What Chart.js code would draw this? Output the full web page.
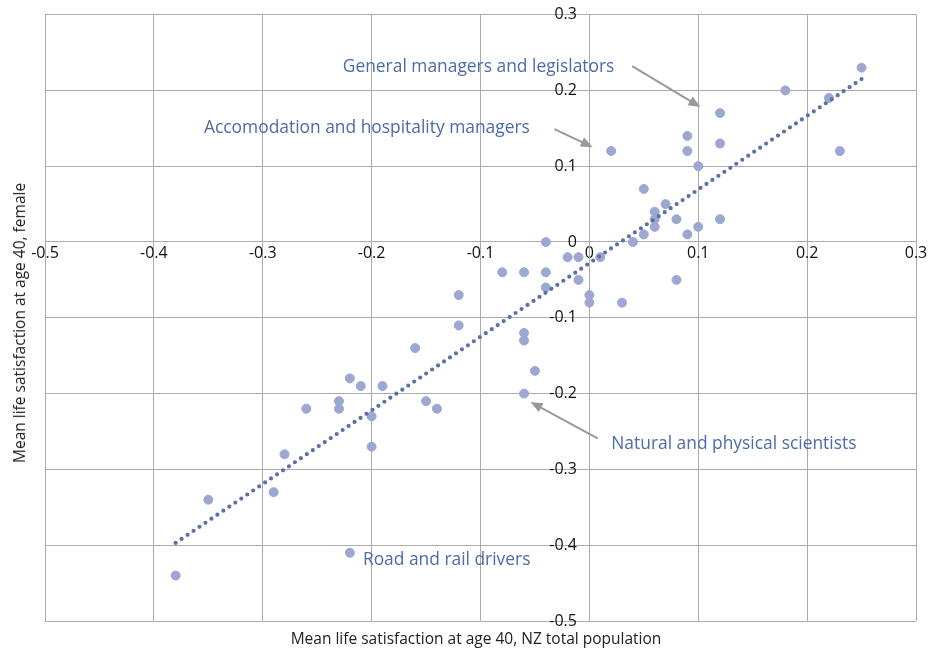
<!DOCTYPE html>
<html>
<head>
<meta charset="utf-8">
<script src="https://cdn.jsdelivr.net/npm/chart.js@4/dist/chart.umd.min.js"></script>
<style>
  html, body { margin: 0; padding: 0; background: #fff; }
  #wrap { position: relative; width: 939px; height: 651px; }
  canvas { position: absolute; left: 0; top: 0; }
  .ttl { position: absolute; font-family: "Open Sans", "Noto Sans", sans-serif; font-size: 15.5px; color: #222; white-space: nowrap; }
  #xt { left: 476px; top: 638px; transform: translate(-50%, -50%); }
  #yt { left: 19px; top: 323px; transform: translate(-50%, -50%) rotate(-90deg); }
</style>
</head>
<body>
<div id="wrap">
  <canvas id="c" width="939" height="651"></canvas>
  <div class="ttl" id="xt">Mean life satisfaction at age 40, NZ total population</div>
  <div class="ttl" id="yt">Mean life satisfaction at age 40, female</div>
</div>
<script>
// Mean life satisfaction at age 40 by occupation: NZ total population (x) vs female (y)
const totalPopulation = [
  0.25, 0.18, 0.22, 0.23, 0.12, 0.09, 0.09, 0.12, 0.02, 0.10,
  0.05, 0.07, 0.06, 0.06, 0.06, 0.08, 0.05, 0.09, 0.10, 0.12,
  0.04, -0.04, -0.02, -0.01, 0.01, -0.08, -0.06, -0.04, -0.04, -0.01,
  0.00, 0.00, 0.03, 0.08, -0.06, -0.06, -0.05, -0.06, -0.12, -0.12,
  -0.16, -0.22, -0.21, -0.19, -0.23, -0.23, -0.26, -0.20, -0.20, -0.15,
  -0.14, -0.28, -0.29, -0.35, -0.22, -0.38
];
const female = [
  0.23, 0.20, 0.19, 0.12, 0.17, 0.14, 0.12, 0.13, 0.12, 0.10,
  0.07, 0.05, 0.04, 0.03, 0.02, 0.03, 0.01, 0.01, 0.02, 0.03,
  0.00, 0.00, -0.02, -0.02, -0.02, -0.04, -0.04, -0.04, -0.06, -0.05,
  -0.07, -0.08, -0.08, -0.05, -0.12, -0.13, -0.17, -0.20, -0.07, -0.11,
  -0.14, -0.18, -0.19, -0.19, -0.21, -0.22, -0.22, -0.23, -0.27, -0.21,
  -0.22, -0.28, -0.33, -0.34, -0.41, -0.44
];
// Linear trend line endpoints
const trendX = [-0.38, 0.25];
const trendY = [-0.397, 0.215];
// Axis tick values
const xTicks = [-0.5, -0.4, -0.3, -0.2, -0.1, 0, 0.1, 0.2, 0.3];
const yTicks = [-0.5, -0.4, -0.3, -0.2, -0.1, 0, 0.1, 0.2, 0.3];
// Callouts
const calloutLabels = [
  'General managers and legislators',
  'Accomodation and hospitality managers',
  'Natural and physical scientists',
  'Road and rail drivers'
];

const fmt = v => (Math.abs(v) < 1e-9 ? '0' : (v < 0 ? '-' : '') + Math.abs(v).toFixed(1));

const scatterPts = totalPopulation.map((x, i) => ({ x: x, y: female[i] }));
const trendPts = trendX.map((x, i) => ({ x: x, y: trendY[i] }));

// Callout placement (data coordinates): text anchor + arrow from/to
const callouts = [
  { text: calloutLabels[0], tx: -0.2265, ty: 0.231, align: 'left', arrow: [[0.0393, 0.232], [0.102, 0.178]] },
  { text: calloutLabels[1], tx: -0.354, ty: 0.150, align: 'left', arrow: [[-0.0321, 0.149], [0.0031, 0.125]] },
  { text: calloutLabels[2], tx: 0.0201, ty: -0.266, align: 'left', arrow: [[0.0076, -0.259], [-0.0540, -0.211]] },
  { text: calloutLabels[3], tx: -0.2080, ty: -0.420, align: 'left', arrow: null }
];

const calloutPlugin = {
  id: 'callouts',
  afterDatasetsDraw(chart) {
    const ctx = chart.ctx;
    const xs = chart.scales.x, ys = chart.scales.y;
    ctx.save();
    ctx.font = '17.4px "Open Sans", "Noto Sans", sans-serif';
    ctx.fillStyle = '#4d6aa9';
    ctx.textBaseline = 'middle';
    callouts.forEach(c => {
      ctx.textAlign = c.align;
      ctx.fillText(c.text, xs.getPixelForValue(c.tx), ys.getPixelForValue(c.ty));
      if (c.arrow) {
        const x1 = xs.getPixelForValue(c.arrow[0][0]), y1 = ys.getPixelForValue(c.arrow[0][1]);
        const x2 = xs.getPixelForValue(c.arrow[1][0]), y2 = ys.getPixelForValue(c.arrow[1][1]);
        const ang = Math.atan2(y2 - y1, x2 - x1);
        const head = 12, hw = 5;
        ctx.strokeStyle = '#999999';
        ctx.fillStyle = '#999999';
        ctx.lineWidth = 2;
        ctx.beginPath();
        ctx.moveTo(x1, y1);
        ctx.lineTo(x2 - Math.cos(ang) * head * 0.8, y2 - Math.sin(ang) * head * 0.8);
        ctx.stroke();
        ctx.beginPath();
        ctx.moveTo(x2, y2);
        ctx.lineTo(x2 - Math.cos(ang) * head - Math.sin(ang) * hw, y2 - Math.sin(ang) * head + Math.cos(ang) * hw);
        ctx.lineTo(x2 - Math.cos(ang) * head + Math.sin(ang) * hw, y2 - Math.sin(ang) * head - Math.cos(ang) * hw);
        ctx.closePath();
        ctx.fill();
        ctx.fillStyle = '#4d6aa9';
      }
    });
    ctx.restore();
  }
};

new Chart(document.getElementById('c'), {
  type: 'scatter',
  data: {
    datasets: [
      {
        label: 'Occupations',
        data: scatterPts,
        backgroundColor: '#9ca7d2',
        borderColor: '#9ca7d2',
        pointRadius: 4.5,
        pointHoverRadius: 4.5,
        order: 2
      },
      {
        label: 'Trend',
        type: 'line',
        data: trendPts,
        showLine: true,
        borderColor: '#5d71a9',
        borderWidth: 4.2,
        borderDash: [0, 7.2],
        borderCapStyle: 'round',
        pointRadius: 0,
        fill: false,
        order: 1
      }
    ]
  },
  options: {
    responsive: false,
    animation: false,
    events: [],
    layout: { padding: { left: 45, top: 14, right: 23, bottom: 30 } },
    plugins: { legend: { display: false }, tooltip: { enabled: false } },
    scales: {
      x: {
        type: 'linear',
        position: { y: 0 },
        min: -0.5, max: 0.3,
        afterBuildTicks: s => { s.ticks = xTicks.map(v => ({ value: v })); },
        grid: { color: '#ababab', lineWidth: 1, drawTicks: false },
        border: { color: '#ababab', width: 1 },
        ticks: {
          padding: 2,
          color: '#111',
          font: { family: '"Open Sans", "Noto Sans", sans-serif', size: 16 },
          callback: v => fmt(v),
          maxRotation: 0, autoSkip: false
        }
      },
      y: {
        type: 'linear',
        position: { x: 0 },
        min: -0.5, max: 0.3,
        afterBuildTicks: s => { s.ticks = yTicks.map(v => ({ value: v })); },
        grid: { color: '#ababab', lineWidth: 1, drawTicks: false },
        border: { color: '#ababab', width: 1 },
        ticks: {
          padding: 5,
          color: '#111',
          font: { family: '"Open Sans", "Noto Sans", sans-serif', size: 16 },
          callback: v => fmt(v) + '   ',
          autoSkip: false
        }
      }
    }
  },
  plugins: [calloutPlugin]
});
</script>
</body>
</html>
